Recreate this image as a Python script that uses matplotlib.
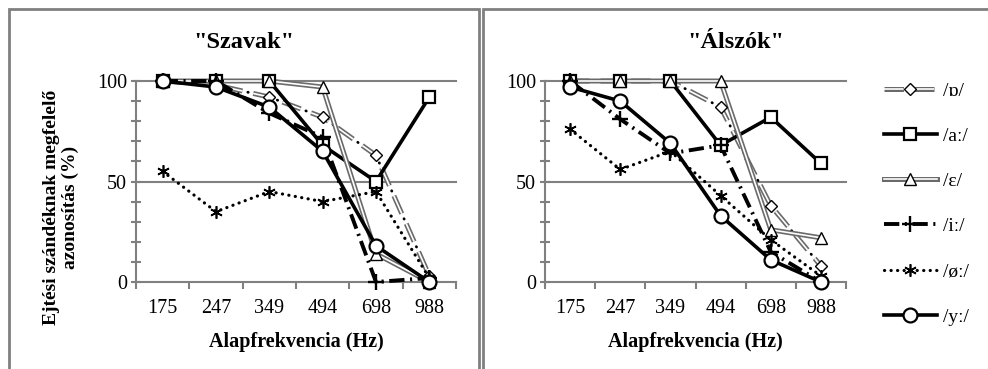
import numpy as np
import matplotlib
matplotlib.use('Agg')
import matplotlib.pyplot as plt
from matplotlib.lines import Line2D
from matplotlib.patches import Rectangle
from matplotlib.legend_handler import HandlerTuple

plt.rcParams['font.family'] = ['Liberation Serif', 'DejaVu Serif']
plt.rcParams['lines.scale_dashes'] = False

# data
freqs = ['175', '247', '349', '494', '698', '988']
labels = ['/ɒ/', '/aː/', '/ɛ/', '/iː/', '/øː/', '/yː/']

szavak_o = [100, 98, 92, 82, 63, 3]
szavak_a = [100, 100, 100, 68, 50, 92]
szavak_e = [100, 100, 100, 97, 14, 0]
szavak_i = [100, 100, 84, 72, 0, 2]
szavak_oe = [55, 35, 45, 40, 45, 2]
szavak_y = [100, 97, 87, 65, 18, 0]

alszok_o = [100, 100, 100, 87, 38, 8]
alszok_a = [100, 100, 100, 68, 82, 59]
alszok_e = [100, 100, 100, 100, 26, 22]
alszok_i = [100, 81, 64, 68, 15, 0]
alszok_oe = [76, 56, 65, 43, 21, 3]
alszok_y = [97, 90, 69, 33, 11, 0]

GRAY = '#808080'
DGRAY = '#6a6a6a'
x = np.arange(len(freqs))

# line layers for each vowel (drawn on top of each other)
def layers(name):
    if name == 'o':
        return [dict(color=DGRAY, lw=3.6, ls=(0, (14, 8))),
                dict(color='white', lw=1.2, ls=(0, (14, 8))),
                dict(color='black', lw=2.0, ls=(4, (0.3, 21.7)), dash_capstyle='round')]
    if name == 'a':
        return [dict(color='black', lw=2.6)]
    if name == 'e':
        return [dict(color=DGRAY, lw=3.6), dict(color='white', lw=1.2)]
    if name == 'i':
        return [dict(color='black', lw=2.8, ls=(0, (11, 4, 1.5, 4)))]
    if name == 'oe':
        return [dict(color='black', lw=2.3, ls=(0, (0.1, 4.6)), dash_capstyle='round')]
    return [dict(color='black', lw=2.6)]

markers = {
    'o': dict(marker='D', ms=6.5, mfc='white', mec='black', mew=1.0),
    'a': dict(marker='s', ms=8.5, mfc='white', mec='black', mew=1.6),
    'e': dict(marker='^', ms=8.5, mfc='white', mec='black', mew=1.0),
    'i': dict(marker='+', ms=12, mec='black', mew=1.7),
    'oe': dict(marker=(6, 2, 0), ms=9, mec='black', mew=1.2),
    'y': dict(marker='o', ms=10, mfc='white', mec='black', mew=1.6),
}
keys = ['o', 'a', 'e', 'i', 'oe', 'y']

fig = plt.figure(figsize=(9.88, 3.69), dpi=100)

# panel frames
fig.patches.append(Rectangle((9/988, -0.1), 470/988, 1.1 - 9/369, transform=fig.transFigure,
                             fill=False, ec=GRAY, lw=2, zorder=0))
fig.patches.append(Rectangle((483/988, -0.1), 0.6, 1.1 - 9/369, transform=fig.transFigure,
                             fill=False, ec=GRAY, lw=2, zorder=0))

ax1 = fig.add_axes([136/988, 1 - 282/369, 320/988, 201/369])
ax2 = fig.add_axes([545/988, 1 - 282/369, 301/988, 201/369])

panels = [
    (ax1, [szavak_o, szavak_a, szavak_e, szavak_i, szavak_oe, szavak_y], '"Szavak"', 244),
    (ax2, [alszok_o, alszok_a, alszok_e, alszok_i, alszok_oe, alszok_y], '"Álszók"', 736),
]

for ax, series, title, cx in panels:
    ax.set_xlim(-0.5, len(freqs) - 0.5)
    ax.set_ylim(0, 100)
    for s in ['top', 'right']:
        ax.spines[s].set_visible(False)
    for s in ['left', 'bottom']:
        ax.spines[s].set_color(GRAY)
        ax.spines[s].set_linewidth(1.5)
    for yy in [50, 100]:
        ax.axhline(yy, color=GRAY, lw=1.5, zorder=1, clip_on=False)
    ax.set_yticks([0, 50, 100])
    ax.set_yticks(np.arange(10, 100, 10), minor=True)
    ax.set_xticks(x)
    ax.set_xticklabels(freqs)
    ax.set_xticks(np.arange(-0.5, len(freqs), 1), minor=True)
    ax.tick_params(axis='y', which='both', direction='inout', length=7, width=1.5,
                   color=GRAY, labelsize=14.5, pad=3)
    ax.tick_params(axis='x', which='major', length=0, labelsize=14.5, pad=12)
    ax.tick_params(axis='x', which='minor', direction='out', length=5, width=1.5, color=GRAY)
    ax.set_xlabel('Alapfrekvencia (Hz)', fontsize=14.5, fontweight='bold', labelpad=10)
    fig.text(cx/988, 1 - 42/369, title, ha='center', va='center', fontsize=17.5,
             fontweight='bold')

    for k, vals in zip(keys, series):
        for lay in layers(k):
            ax.plot(x, vals, clip_on=False, zorder=3, **lay)
        ax.plot(x, vals, ls='none', clip_on=False, zorder=4, **markers[k])

fig.text(61/988, 1 - 207/369, 'Ejtési szándéknak megfelelő\nazonosítás (%)', rotation=90,
         ha='center', va='center', multialignment='center', fontsize=14, fontweight='bold',
         linespacing=1.1)

# legend
handles = []
for k in keys:
    parts = [Line2D([], [], **lay) for lay in layers(k)]
    parts.append(Line2D([], [], ls='none', **markers[k]))
    handles.append(tuple(parts))

fig.legend(handles, labels, loc='upper left', bbox_to_anchor=(884/988, 1 - 82/369),
           frameon=False, fontsize=14, handlelength=2.7, handletextpad=0.35,
           labelspacing=1.42, borderpad=0, borderaxespad=0,
           handler_map={tuple: HandlerTuple(ndivide=1, pad=0)})

fig.savefig('out.png', dpi=100)
